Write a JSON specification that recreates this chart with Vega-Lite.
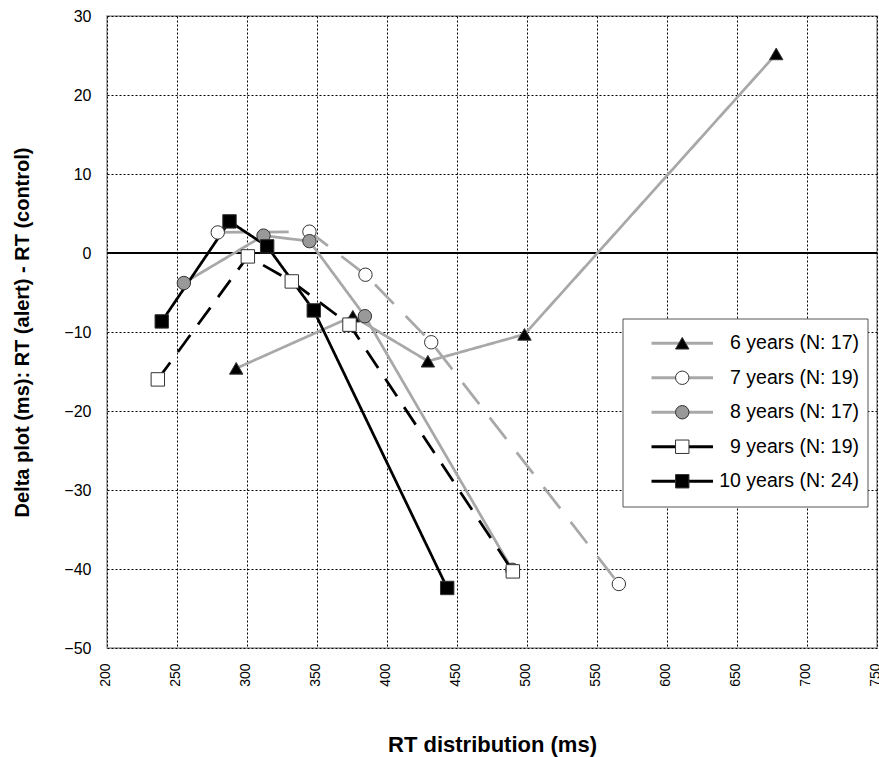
{
  "$schema": "https://vega.github.io/schema/vega-lite/v6.json",
  "width": 770,
  "height": 632,
  "autosize": {"type": "none"},
  "padding": {"left": 107, "top": 16, "right": 2, "bottom": 109},
  "background": "white",
  "config": {
    "font": "Liberation Sans",
    "view": {"stroke": "#999999", "strokeWidth": 1.5},
    "axis": {
      "labelFont": "Liberation Sans",
      "titleFont": "Liberation Sans",
      "labelColor": "#000000",
      "titleColor": "#000000",
      "grid": true,
      "gridColor": "#000000",
      "gridDash": [2, 2],
      "gridWidth": 1,
      "domain": false,
      "ticks": false,
      "tickSize": 0
    },
    "legend": {"labelFont": "Liberation Sans", "labelColor": "#000000"}
  },
  "data": {
    "values": [
      {"series": "6 years (N: 17)", "rt": 292.3, "delta": -14.6},
      {"series": "6 years (N: 17)", "rt": 375.6, "delta": -8.0},
      {"series": "6 years (N: 17)", "rt": 429.2, "delta": -13.7},
      {"series": "6 years (N: 17)", "rt": 498.2, "delta": -10.3},
      {"series": "6 years (N: 17)", "rt": 678.0, "delta": 25.2},
      {"series": "7 years (N: 19)", "rt": 279.1, "delta": 2.6},
      {"series": "7 years (N: 19)", "rt": 344.6, "delta": 2.7},
      {"series": "7 years (N: 19)", "rt": 384.6, "delta": -2.75},
      {"series": "7 years (N: 19)", "rt": 431.6, "delta": -11.3},
      {"series": "7 years (N: 19)", "rt": 565.6, "delta": -41.9},
      {"series": "8 years (N: 17)", "rt": 254.9, "delta": -3.8},
      {"series": "8 years (N: 17)", "rt": 311.8, "delta": 2.2},
      {"series": "8 years (N: 17)", "rt": 344.6, "delta": 1.5},
      {"series": "8 years (N: 17)", "rt": 384.2, "delta": -8.0},
      {"series": "8 years (N: 17)", "rt": 489.5, "delta": -40.1},
      {"series": "9 years (N: 19)", "rt": 236.3, "delta": -16.0},
      {"series": "9 years (N: 19)", "rt": 300.6, "delta": -0.43},
      {"series": "9 years (N: 19)", "rt": 332.0, "delta": -3.6},
      {"series": "9 years (N: 19)", "rt": 373.2, "delta": -9.07},
      {"series": "9 years (N: 19)", "rt": 489.9, "delta": -40.3},
      {"series": "10 years (N: 24)", "rt": 239.1, "delta": -8.66},
      {"series": "10 years (N: 24)", "rt": 287.5, "delta": 4.0},
      {"series": "10 years (N: 24)", "rt": 314.4, "delta": 0.84},
      {"series": "10 years (N: 24)", "rt": 347.7, "delta": -7.27},
      {"series": "10 years (N: 24)", "rt": 443.0, "delta": -42.4}
    ]
  },
  "encoding": {
    "x": {
      "field": "rt",
      "type": "quantitative",
      "scale": {"domain": [200, 750], "nice": false, "zero": false},
      "axis": {
        "values": [200, 250, 300, 350, 400, 450, 500, 550, 600, 650, 700, 750],
        "labelAngle": 270,
        "labelPadding": 15,
        "labelFontSize": 14,
        "labelOffset": -2,
        "title": "RT distribution (ms)",
        "titleFontSize": 22,
        "titleFontWeight": "bold",
        "titlePadding": 48
      }
    },
    "y": {
      "field": "delta",
      "type": "quantitative",
      "scale": {"domain": [-50, 30], "nice": false, "zero": false},
      "axis": {
        "values": [-50, -40, -30, -20, -10, 0, 10, 20, 30],
        "labelFontSize": 16,
        "labelPadding": 16,
        "title": "Delta plot (ms): RT  (alert)  -  RT (control)",
        "titleFontSize": 20,
        "titleFontWeight": "bold",
        "titlePadding": 31
      }
    }
  },
  "layer": [
    {
      "mark": {"type": "rule", "color": "#000000", "strokeWidth": 1},
      "encoding": {"x": null, "y": {"datum": 0, "type": "quantitative"}}
    },
    {
      "mark": {"type": "line", "strokeWidth": 2.75, "strokeCap": "butt"},
      "encoding": {
        "stroke": {
          "field": "series",
          "type": "nominal",
          "scale": {
            "domain": ["6 years (N: 17)", "7 years (N: 19)", "8 years (N: 17)", "9 years (N: 19)", "10 years (N: 24)"],
            "range": ["#a8a8a8", "#a8a8a8", "#a8a8a8", "#000000", "#000000"]
          },
          "legend": {
            "orient": "none",
            "legendX": 515.5,
            "legendY": 302.5,
            "title": null,
            "padding": 15,
            "fillColor": "#ffffff",
            "strokeColor": "#555555",
            "symbolType": "M-5.5,0H5.5",
            "symbolSize": 125,
            "symbolStrokeWidth": 3,
            "symbolOffset": 35,
            "labelFontSize": 19.5,
            "labelAlign": "right",
            "labelOffset": 160,
            "labelOpacity": 0,
            "labelLimit": 300,
            "rowPadding": 13.5,
            "zindex": 1
          }
        },
        "strokeDash": {
          "field": "series",
          "type": "nominal",
          "scale": {
            "domain": ["6 years (N: 17)", "7 years (N: 19)", "8 years (N: 17)", "9 years (N: 19)", "10 years (N: 24)"],
            "range": [[1, 0], [27, 17], [1, 0], [21, 13], [1, 0]]
          },
          "legend": null
        }
      }
    },
    {
      "mark": {"type": "point", "filled": true, "stroke": "#333333", "strokeWidth": 1, "size": 180, "opacity": 1},
      "encoding": {
        "shape": {
          "field": "series",
          "type": "nominal",
          "scale": {
            "domain": ["6 years (N: 17)", "7 years (N: 19)", "8 years (N: 17)", "9 years (N: 19)", "10 years (N: 24)"],
            "range": ["triangle-up", "circle", "circle", "square", "square"]
          },
          "legend": {
            "orient": "none",
            "legendX": 515.5,
            "legendY": 302.5,
            "title": null,
            "padding": 15,
            "symbolSize": 180,
            "symbolStrokeWidth": 1,
            "symbolOffset": 35,
            "labelFontSize": 19.5,
            "labelAlign": "right",
            "labelOffset": 167,
            "labelLimit": 300,
            "rowPadding": 13.5,
            "zindex": 2
          }
        },
        "fill": {
          "field": "series",
          "type": "nominal",
          "scale": {
            "domain": ["6 years (N: 17)", "7 years (N: 19)", "8 years (N: 17)", "9 years (N: 19)", "10 years (N: 24)"],
            "range": ["#000000", "#ffffff", "#999999", "#ffffff", "#000000"]
          },
          "legend": {
            "orient": "none",
            "legendX": 515.5,
            "legendY": 302.5,
            "title": null,
            "padding": 15,
            "symbolSize": 180,
            "symbolStrokeWidth": 1,
            "symbolOffset": 35,
            "labelFontSize": 19.5,
            "labelAlign": "right",
            "labelOffset": 167,
            "labelLimit": 300,
            "rowPadding": 13.5,
            "zindex": 2
          }
        }
      }
    }
  ],
  "resolve": {"legend": {"stroke": "independent", "shape": "independent", "fill": "independent"}}
}
